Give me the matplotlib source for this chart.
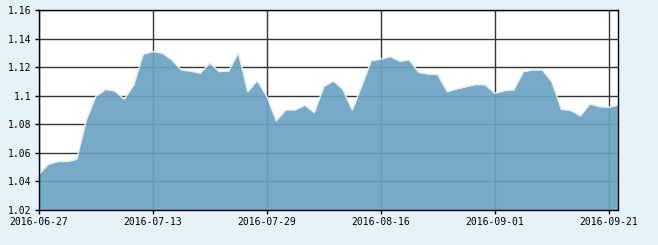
#!/usr/bin/env python3
"""Area chart of a daily value series (2016-06-27 .. 2016-09-22, trading days)."""

import matplotlib
matplotlib.use('Agg')
import matplotlib.pyplot as plt

# Daily values, one per trading day
values = [
    1.045, 1.052, 1.054, 1.054, 1.0556, 1.083, 1.0995, 1.1045, 1.1035, 1.0977,
    1.1077, 1.1293, 1.1311, 1.130, 1.1253, 1.1182, 1.1173, 1.1159, 1.123, 1.117,
    1.1175, 1.1304, 1.103, 1.1107, 1.0998, 1.0827, 1.0902, 1.0902, 1.0935, 1.0883,
    1.1065, 1.1105, 1.1047, 1.0902, 1.107, 1.1248, 1.1257, 1.1276, 1.1243, 1.1253,
    1.1164, 1.1154, 1.1149, 1.103, 1.1049, 1.1065, 1.108, 1.1077, 1.1019, 1.1037,
    1.1042, 1.117, 1.1182, 1.1182, 1.110, 1.0907, 1.0897, 1.086, 1.0944, 1.0925,
    1.092, 1.0937,
]

# Tick labels every 12 trading days
xtick_idx = [0, 12, 24, 36, 48, 60]
xtick_labels = ['2016-06-27', '2016-07-13', '2016-07-29',
                '2016-08-16', '2016-09-01', '2016-09-21']
ytick_vals = [1.02, 1.04, 1.06, 1.08, 1.10, 1.12, 1.14, 1.16]
ytick_labels = ['1.02', '1.04', '1.06', '1.08', '1.1', '1.12', '1.14', '1.16']

BG = '#e6f2fa'
FILL = '#6ba3c1'
GRID = '#333333'

fig = plt.figure(figsize=(6.58, 2.45), dpi=100, facecolor=BG)
ax = fig.add_axes([38.7 / 658, 35 / 245, (618.3 - 38.7) / 658, (210 - 10.3) / 245])
ax.set_facecolor('white')

x = list(range(len(values)))
ax.fill_between(x, values, 1.02, color=FILL, alpha=0.92, lw=0, zorder=3)
ax.plot(x, values, color='#e3f1fa', lw=1.0, zorder=4)

ax.set_xlim(0, len(values) - 1)
ax.set_ylim(1.02, 1.16)

ax.set_xticks(xtick_idx)
ax.set_xticklabels(xtick_labels)
ax.set_yticks(ytick_vals)
ax.set_yticklabels(ytick_labels)

ax.grid(True, color=GRID, lw=1.0, zorder=1)
ax.set_axisbelow(True)

for s in ax.spines.values():
    s.set_color('black')
    s.set_linewidth(1.0)
    s.set_zorder(5)

ax.tick_params(axis='both', direction='out', length=3, width=1, color='black',
               labelsize=7, pad=2)
for lbl in ax.get_xticklabels() + ax.get_yticklabels():
    lbl.set_family('DejaVu Sans Mono')

fig.savefig('out.png', dpi=100, facecolor=BG)
